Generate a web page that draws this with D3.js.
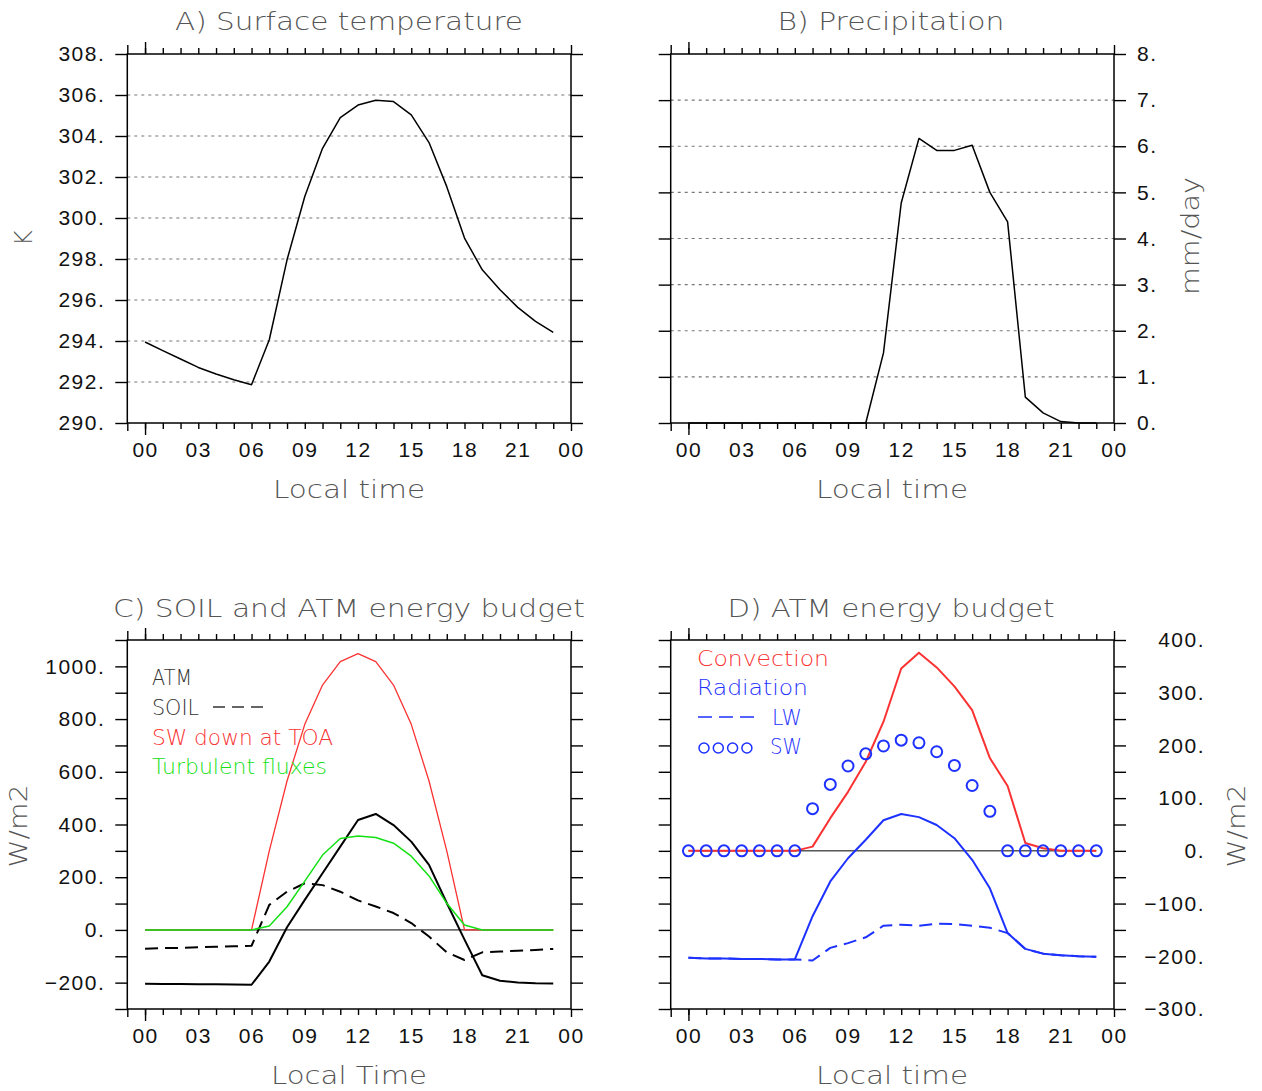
<!DOCTYPE html>
<html>
<head>
<meta charset="utf-8">
<script src="https://cdn.jsdelivr.net/npm/d3@7"></script>
<style>
  body { margin: 0; background: #fff; }
  svg { display: block; font-family: "DejaVu Sans", sans-serif; }
  .tick line { stroke: #000; stroke-width: 1.4; }
  .tick text { font-size: 21px; fill: #111; letter-spacing: 1.5px; }
  .lbl { fill: #555; font-weight: 200; }
</style>
</head>
<body>
<svg id="chart" width="1262" height="1091"></svg>
<script>
// local time (hour of day)
const hours = [0,1,2,3,4,5,6,7,8,9,10,11,12,13,14,15,16,17,18,19,20,21,22,23];
const xLabelHours = [0,3,6,9,12,15,18,21,24];

// A) surface temperature (K)
const tempTicks = [290,292,294,296,298,300,302,304,306,308];
const tempGrid = [292,294,296,298,300,302,304,306];
const surfTemp = [293.95,293.53,293.12,292.71,292.39,292.11,291.87,294.06,297.96,301.05,303.40,304.90,
                  305.51,305.74,305.68,305.03,303.68,301.53,299.02,297.47,296.50,295.64,294.96,294.42];

// B) precipitation (mm/day)
const precipTicks = [0,1,2,3,4,5,6,7,8];
const precipGrid = [1,2,3,4,5,6,7];
const precip = [0,0,0,0,0,0,0,0,0,0,0,1.52,4.77,6.17,5.91,5.91,6.02,5.0,4.36,0.56,0.22,0.03,0,0];

// C) soil and atm energy budget (W/m2)
const budgetTicks = [-300,-200,-100,0,100,200,300,400,500,600,700,800,900,1000,1100];
const swToa = [0,0,0,0,0,0,0,300,565,780,929,1018,1048,1018,929,780,565,300,0,0,0,0,0,0];
const atm   = [-204,-205,-205,-206,-206,-207,-208,-120,10,114,215,316,417,440,398,335,247,102,-37,-172,-193,-199,-202,-203];
const soil  = [-71,-69,-68,-66,-64,-62,-60,95,145,177,170,145,112,89,64,26,-25,-85,-114,-85,-82,-79,-76,-72];
const turb  = [0,0,0,0,0,0,0,15,88,185,284,347,356,351,329,280,205,101,19,0,0,0,0,0];

// D) atm energy budget (W/m2)
const atmTicks = [-300,-250,-200,-150,-100,-50,0,50,100,150,200,250,300,350,400];
const convection = [0,0,0,0,0,0,0,8,62,112,169,245,346,376,348,312,267,176,123,15,5,0,0,0];
const radiation  = [-203,-204,-204,-205,-205,-206,-206,-124,-58,-14,21,58,70,64,49,24,-17,-71,-156,-186,-195,-198,-200,-201];
const longwave   = [-203,-204,-204,-205,-205,-206,-206,-208,-184,-175,-164,-142,-140,-142,-138,-139,-142,-146,-156,-186,-195,-198,-200,-201];
const shortwave  = [0,0,0,0,0,0,0,80,126,161,184,199,210,205,188,162,124,75,0,0,0,0,0,0];

const RED = 'rgb(250,50,50)', GREEN = 'rgb(20,225,20)', BLUE = 'rgb(30,50,255)';

const svg = d3.select('#chart');
svg.append('rect').attr('width', 1262).attr('height', 1091).attr('fill', '#fff');

const pad2 = d3.format('02d');
const numFmt = (v) => (v < 0 ? '\u2212' : '') + Math.abs(v) + '.';

function addText(g, str, x, y, o) {
  o = o || {};
  const t = g.append('text')
    .attr('class', o.cls || 'lbl')
    .attr('x', x).attr('y', y)
    .attr('font-size', o.size || 24)
    .attr('text-anchor', o.anchor || 'middle')
    .text(str);
  if (o.len) t.attr('textLength', o.len).attr('lengthAdjust', 'spacingAndGlyphs');
  if (o.fill) t.style('fill', o.fill);
  if (o.rotate) t.attr('transform', `rotate(-90, ${x}, ${y})`).attr('dominant-baseline', 'central');
  return t;
}

function makePanel(p) {
  const g = svg.append('g');
  const x = d3.scaleLinear().domain([-1, 24]).range([p.left, p.right]);
  const y = d3.scaleLinear().domain(p.yDomain).range([p.bottom, p.top]);
  const clean = (s) => s.select('.domain').remove();

  // dotted gridlines
  if (p.grid) {
    g.selectAll('line.grid').data(p.grid).enter().append('line')
      .attr('x1', p.left).attr('x2', p.right)
      .attr('y1', (d) => y(d)).attr('y2', (d) => y(d))
      .attr('stroke', '#777').attr('stroke-width', 1.2)
      .attr('stroke-dasharray', '3,4');
  }

  // hourly ticks, top and bottom
  const minor = d3.range(0, 24);
  g.append('g').attr('transform', `translate(0,${p.bottom})`)
    .call(d3.axisBottom(x).tickValues(minor).tickSize(6).tickSizeOuter(0).tickFormat('')).call(clean);
  g.append('g').attr('transform', `translate(0,${p.top})`)
    .call(d3.axisTop(x).tickValues(minor).tickSize(6).tickSizeOuter(0).tickFormat('')).call(clean);
  g.append('g').attr('transform', `translate(0,${p.bottom})`)
    .call(d3.axisBottom(x).tickValues([0]).tickSize(12).tickSizeOuter(0).tickFormat('')).call(clean);
  g.append('g').attr('transform', `translate(0,${p.top})`)
    .call(d3.axisTop(x).tickValues([0]).tickSize(12).tickSizeOuter(0).tickFormat('')).call(clean);
  g.append('g').attr('transform', `translate(0,${p.bottom})`)
    .call(d3.axisBottom(x).tickValues([-1, 24]).tickSize(8).tickSizeOuter(0).tickFormat('')).call(clean);
  g.append('g').attr('transform', `translate(0,${p.top})`)
    .call(d3.axisTop(x).tickValues([-1, 24]).tickSize(9).tickSizeOuter(0).tickFormat('')).call(clean);

  // hour labels
  g.append('g').attr('transform', `translate(0,${p.bottom})`)
    .call(d3.axisBottom(x).tickValues(xLabelHours).tickSize(0).tickPadding(19)
      .tickFormat((h) => pad2(h % 24))).call(clean);

  // y ticks both sides
  const leftFmt = p.labelSide === 'left' ? p.fmt : () => '';
  const rightFmt = p.labelSide === 'right' ? p.fmt : () => '';
  g.append('g').attr('transform', `translate(${p.left},0)`)
    .call(d3.axisLeft(y).tickValues(p.yTicks).tickSize(12).tickPadding(10).tickSizeOuter(0).tickFormat(leftFmt))
    .call(clean);
  const ra = g.append('g').attr('transform', `translate(${p.right},0)`)
    .call(d3.axisRight(y).tickValues(p.yTicks).tickSize(12).tickPadding(11).tickSizeOuter(0).tickFormat(rightFmt))
    .call(clean);
  if (p.rightAlignAt) {
    ra.selectAll('text').attr('text-anchor', 'end').attr('x', p.rightAlignAt - p.right);
  }

  // frame
  g.append('rect')
    .attr('x', p.left).attr('y', p.top)
    .attr('width', p.right - p.left).attr('height', p.bottom - p.top)
    .attr('fill', 'none').attr('stroke', '#000').attr('stroke-width', 1.5);

  return { g, x, y };
}

function drawLine(panel, values, color, width, dash) {
  const line = d3.line().x((d, i) => panel.x(hours[i])).y((d) => panel.y(d));
  panel.g.append('path')
    .datum(values)
    .attr('d', line)
    .attr('fill', 'none')
    .attr('stroke', color)
    .attr('stroke-width', width)
    .attr('stroke-linejoin', 'round')
    .attr('stroke-dasharray', dash || null);
}

function zeroLine(panel) {
  panel.g.append('line')
    .attr('x1', panel.x(hours[0])).attr('x2', panel.x(hours[hours.length - 1]))
    .attr('y1', panel.y(0)).attr('y2', panel.y(0))
    .attr('stroke', '#000').attr('stroke-width', 1);
}

// ---- A) Surface temperature
const pA = makePanel({ left: 127.3, right: 571, top: 54, bottom: 423, yDomain: [290, 308],
  yTicks: tempTicks, grid: tempGrid, labelSide: 'left', fmt: numFmt });
drawLine(pA, surfTemp, '#000', 1.5);
addText(svg, 'A) Surface temperature', 349, 30, { len: 348, size: 25 });
addText(svg, 'Local time', 349, 498, { len: 152, size: 25 });
addText(svg, 'K', 24, 238, { rotate: true });

// ---- B) Precipitation
const pB = makePanel({ left: 670.7, right: 1114, top: 54, bottom: 423, yDomain: [0, 8],
  yTicks: precipTicks, grid: precipGrid, labelSide: 'right', fmt: numFmt });
drawLine(pB, precip, '#000', 1.5);
addText(svg, 'B) Precipitation', 891, 30, { len: 227, size: 25 });
addText(svg, 'Local time', 892, 498, { len: 152, size: 25 });
addText(svg, 'mm/day', 1191, 236, { rotate: true, len: 118 });

// ---- C) SOIL and ATM energy budget
const pC = makePanel({ left: 127.3, right: 571, top: 640, bottom: 1009, yDomain: [-300, 1100],
  yTicks: budgetTicks, labelSide: 'left', fmt: (v) => (v % 200 === 0 ? numFmt(v) : '') });
zeroLine(pC);
drawLine(pC, swToa, RED, 1.3);
drawLine(pC, soil, '#000', 2, '13,7');
drawLine(pC, atm, '#000', 2);
drawLine(pC, turb, GREEN, 1.5);
addText(svg, 'C) SOIL and ATM energy budget', 349, 617, { len: 472, size: 25 });
addText(svg, 'Local Time', 349, 1084, { len: 156, size: 25 });
addText(svg, 'W/m2', 19, 826, { rotate: true, len: 83 });
addText(svg, 'ATM', 152, 685, { anchor: 'start', size: 21, len: 40, fill: '#333' });
addText(svg, 'SOIL', 152, 715, { anchor: 'start', size: 21, len: 47, fill: '#333' });
svg.append('line').attr('x1', 213).attr('x2', 263).attr('y1', 707).attr('y2', 707)
  .attr('stroke', '#333').attr('stroke-width', 1.5).attr('stroke-dasharray', '12,7');
addText(svg, 'SW down at TOA', 152, 745, { anchor: 'start', size: 21, len: 181, fill: RED });
addText(svg, 'Turbulent fluxes', 152, 774, { anchor: 'start', size: 21, len: 175, fill: GREEN });

// ---- D) ATM energy budget
const pD = makePanel({ left: 670.7, right: 1114, top: 640, bottom: 1009, yDomain: [-300, 400],
  yTicks: atmTicks, labelSide: 'right', rightAlignAt: 1205,
  fmt: (v) => (v % 100 === 0 ? numFmt(v) : '') });
zeroLine(pD);
drawLine(pD, longwave, BLUE, 2, '13,7');
drawLine(pD, radiation, BLUE, 2);
drawLine(pD, convection, RED, 2);
pD.g.selectAll('circle.sw').data(shortwave).enter().append('circle')
  .attr('class', 'sw')
  .attr('cx', (d, i) => pD.x(hours[i]))
  .attr('cy', (d) => pD.y(d))
  .attr('r', 5.5)
  .attr('fill', 'none').attr('stroke', BLUE).attr('stroke-width', 2);
addText(svg, 'D) ATM energy budget', 891, 617, { len: 327, size: 25 });
addText(svg, 'Local time', 892, 1084, { len: 152, size: 25 });
addText(svg, 'W/m2', 1237, 826, { rotate: true, len: 83 });
addText(svg, 'Convection', 697, 666, { anchor: 'start', size: 22, len: 132, fill: RED });
addText(svg, 'Radiation', 697, 695, { anchor: 'start', size: 22, len: 111, fill: BLUE });
svg.append('line').attr('x1', 698).attr('x2', 755).attr('y1', 717).attr('y2', 717)
  .attr('stroke', BLUE).attr('stroke-width', 1.5).attr('stroke-dasharray', '14,7');
addText(svg, 'LW', 772, 725, { anchor: 'start', size: 22, len: 30, fill: BLUE });
svg.selectAll('circle.leg').data([0, 1, 2, 3]).enter().append('circle')
  .attr('class', 'leg')
  .attr('cx', (d) => 704 + d * 14.3).attr('cy', 748)
  .attr('r', 5).attr('fill', 'none').attr('stroke', BLUE).attr('stroke-width', 1.5);
addText(svg, 'SW', 770, 754, { anchor: 'start', size: 22, len: 32, fill: BLUE });
</script>
</body>
</html>
